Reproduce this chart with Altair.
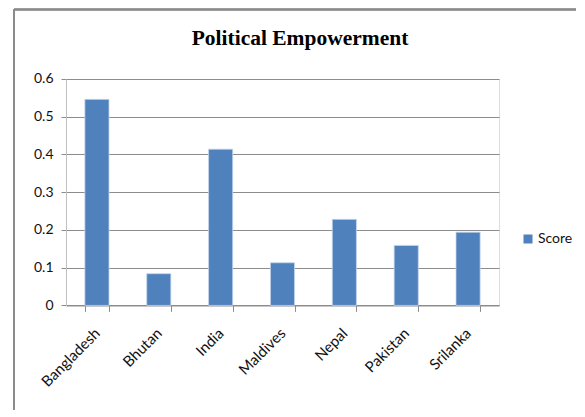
import altair as alt
import pandas as pd

countries = ["Bangladesh", "Bhutan", "India", "Maldives", "Nepal", "Pakistan", "Srilanka"]
scores = [0.546, 0.084, 0.414, 0.113, 0.228, 0.159, 0.194]
series = ["Score"] * len(countries)
y_ticks = [0, 0.1, 0.2, 0.3, 0.4, 0.5, 0.6]

df = pd.DataFrame({"Country": countries, "Score": scores, "Series": series})

W, H = 433, 226.4
FONT = "Lato"

bars = alt.Chart(df).mark_bar(stroke="#C5D6EC", strokeWidth=0.8).encode(
    x=alt.X("Country:N", sort=countries, title=None,
            scale=alt.Scale(paddingInner=0.61, paddingOuter=0.305),
            axis=alt.Axis(labelAngle=315, labelAlign="right", labelBaseline="middle",
                          labelPadding=19, labelFontSize=15, labelFont=FONT, labelColor="#111111",
                          tickBand="extent", tickSize=6, tickColor="#8C8C8C",
                          domainColor="#8C8C8C", grid=False)),
    y=alt.Y("Score:Q", title=None,
            scale=alt.Scale(domain=[0, 0.6], nice=False),
            axis=alt.Axis(values=y_ticks, format=".1~f", labelFontSize=14, labelFont=FONT,
                          labelColor="#111111", labelPadding=8, tickSize=5, tickColor="#8C8C8C",
                          domainColor="#C0C0C0", gridColor="#8C8C8C", gridWidth=1)),
    color=alt.Color("Series:N", scale=alt.Scale(range=["#4F81BD"]),
                    legend=alt.Legend(title=None, orient="none", legendX=455, legendY=153,
                                      symbolType="square", symbolSize=81, symbolStrokeWidth=0,
                                      labelFontSize=14, labelFont=FONT, labelColor="#111111",
                                      labelOffset=3)),
)

frame_left = alt.Chart(df).mark_rule(color="#8C8C8C", strokeWidth=1.6).encode(
    x=alt.value(-52), y=alt.value(-69.5), y2=alt.value(331))
frame_top = alt.Chart(df).mark_rule(color="#8C8C8C", strokeWidth=1.6).encode(
    x=alt.value(-52), x2=alt.value(510), y=alt.value(-69.5))

title = alt.Chart(pd.DataFrame({"t": ["Political Empowerment"]})).mark_text(
    font="Liberation Serif", fontSize=21.5, fontWeight="bold", color="#000000",
    align="center", baseline="alphabetic").encode(
    text="t:N", x=alt.value(234), y=alt.value(-33.6))

chart = alt.layer(frame_left, frame_top, bars, title).properties(
    width=W, height=H,
    padding={"left": 5, "top": 0, "right": 0, "bottom": 0},
).configure_view(stroke=None).configure(background="white")

chart.save("out.html", embed_options={"renderer": "svg", "actions": False})
